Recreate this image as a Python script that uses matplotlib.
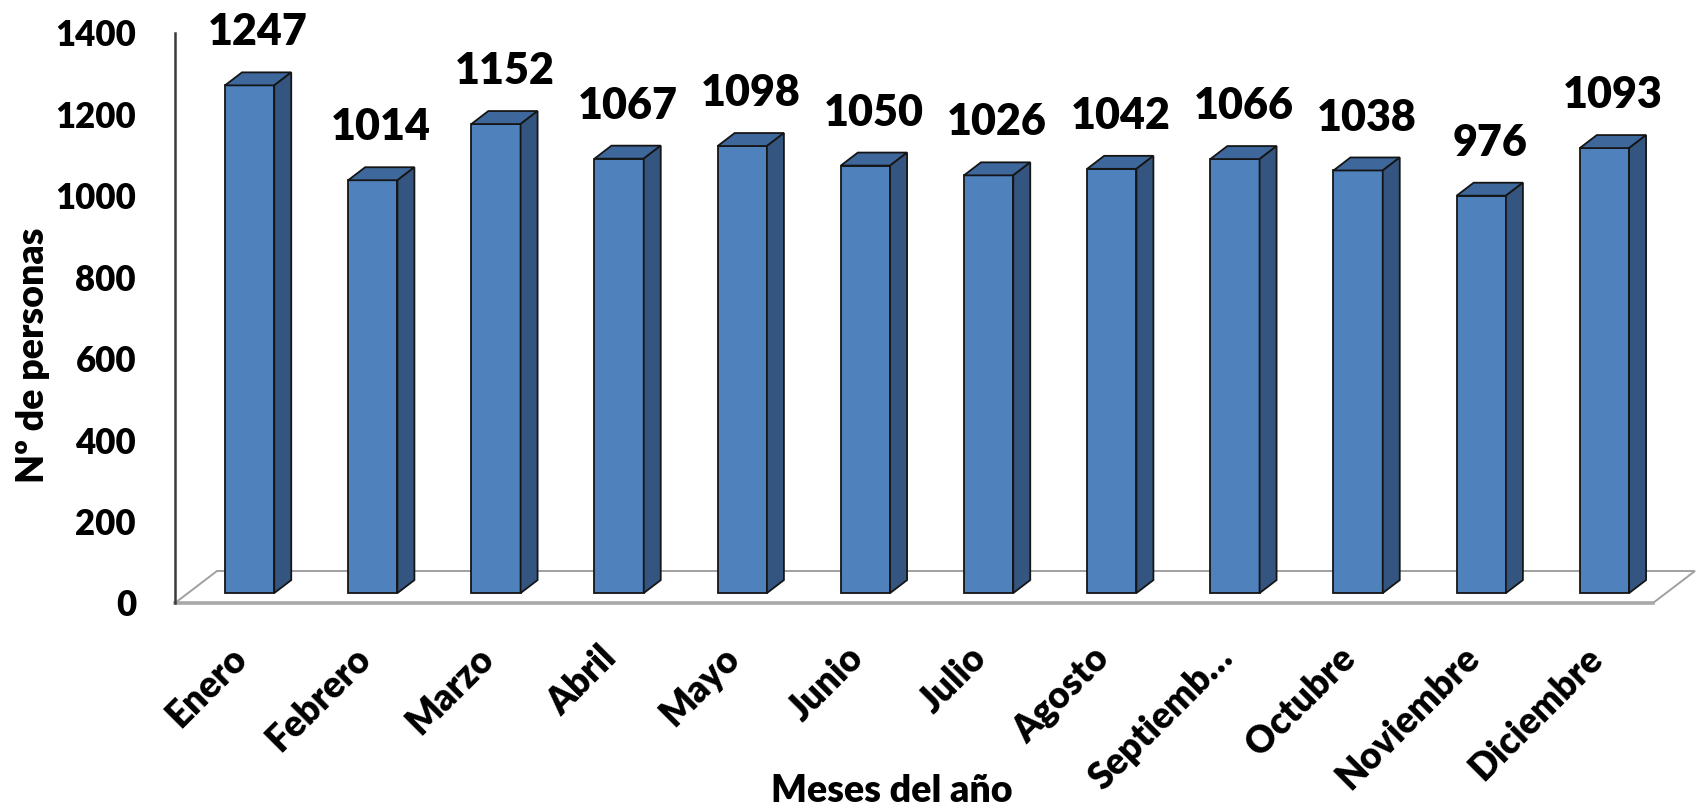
import matplotlib.pyplot as plt
import matplotlib.transforms as mtransforms
from matplotlib.patches import Polygon

# datos del grafico
meses = ["Enero", "Febrero", "Marzo", "Abril", "Mayo", "Junio", "Julio",
         "Agosto", "Septiemb\u2026", "Octubre", "Noviembre", "Diciembre"]
personas = [1247, 1014, 1152, 1067, 1098, 1050, 1026, 1042, 1066, 1038, 976, 1093]
yticks = [0, 200, 400, 600, 800, 1000, 1200, 1400]

plt.rcParams['font.family'] = ['Lato', 'DejaVu Sans']
PESO = 'heavy'

W, H = 1696, 807
fig = plt.figure(figsize=(W / 100, H / 100), dpi=100)
ax = fig.add_axes([175 / W, 204 / H, 1478 / W, 570 / H])
ax.set_xlim(-0.5, len(meses) - 0.5)
ax.set_ylim(0, 1400)

# profundidad "3D" en unidades de datos
px_x = 1478 / len(meses)
px_y = 570 / 1400
DX, DY = 42 / px_x, 32 / px_y       # fondo del suelo
f = 0.31                            # posicion de la cara frontal de la barra
bw = 0.4                            # ancho de barra
bdx, bdy = 17 / px_x, 13 / px_y     # fondo de la barra

# suelo
x0, x1 = -0.5, len(meses) - 0.5
suelo = Polygon([(x0, 0), (x1, 0), (x1 + DX, DY), (x0 + DX, DY)], closed=True,
                facecolor='white', edgecolor='#a0a0a0', lw=1.4, zorder=1, clip_on=False)
ax.add_patch(suelo)
ax.plot([x0, x1], [0, 0], color='#a8a8a8', lw=2.6, zorder=1.1, clip_on=False)

frente, lado, arriba = '#4F81BD', '#34557F', '#3E679C'
borde = '#151515'
for i, v in enumerate(personas):
    xl = i + f * DX - bw / 2
    xr = xl + bw
    yb = f * DY
    yt = v + yb
    ax.add_patch(Polygon([(xl, yb), (xr, yb), (xr, yt), (xl, yt)], closed=True,
                         facecolor=frente, edgecolor=borde, lw=1.3, zorder=3, clip_on=False))
    ax.add_patch(Polygon([(xl, yt), (xr, yt), (xr + bdx, yt + bdy), (xl + bdx, yt + bdy)],
                         closed=True, facecolor=arriba, edgecolor=borde, lw=1.3, zorder=3,
                         clip_on=False))
    ax.add_patch(Polygon([(xr, yb), (xr + bdx, yb + bdy), (xr + bdx, yt + bdy), (xr, yt)],
                         closed=True, facecolor=lado, edgecolor=borde, lw=1.3, zorder=3,
                         clip_on=False))
    ax.text(i + f * DX + bdx / 2, yt + 98, str(v), ha='center', va='baseline',
            fontsize=31, fontweight=PESO, clip_on=False)

# ejes
for s in ['top', 'right', 'bottom']:
    ax.spines[s].set_visible(False)
ax.spines['left'].set_color('#3a3a3a')
ax.spines['left'].set_linewidth(1.8)

ax.set_yticks(yticks)
ax.set_yticklabels([str(t) for t in yticks], fontsize=25, fontweight=PESO)
ax.set_xticks(range(len(meses)))
ax.set_xticklabels(meses, rotation=45, ha='right', rotation_mode='anchor',
                   fontsize=26.5, fontweight=PESO)
ax.tick_params(axis='y', length=0, pad=28)
ax.tick_params(axis='x', length=0, pad=27)
desplaza = mtransforms.ScaledTranslation(-7 / 100, 0, fig.dpi_scale_trans)
for lab in ax.get_xticklabels():
    lab.set_transform(lab.get_transform() + desplaza)

ax.set_ylabel("N\u00ba de personas", fontsize=27, fontweight=PESO)
ax.yaxis.set_label_coords(-0.0846, 0.435)
ax.set_xlabel("Meses del a\u00f1o", fontsize=27, fontweight=PESO)
ax.xaxis.label.set_va('baseline')
ax.xaxis.set_label_coords(0.485, -0.349)

plt.savefig("out.png", dpi=100)
plt.close()
